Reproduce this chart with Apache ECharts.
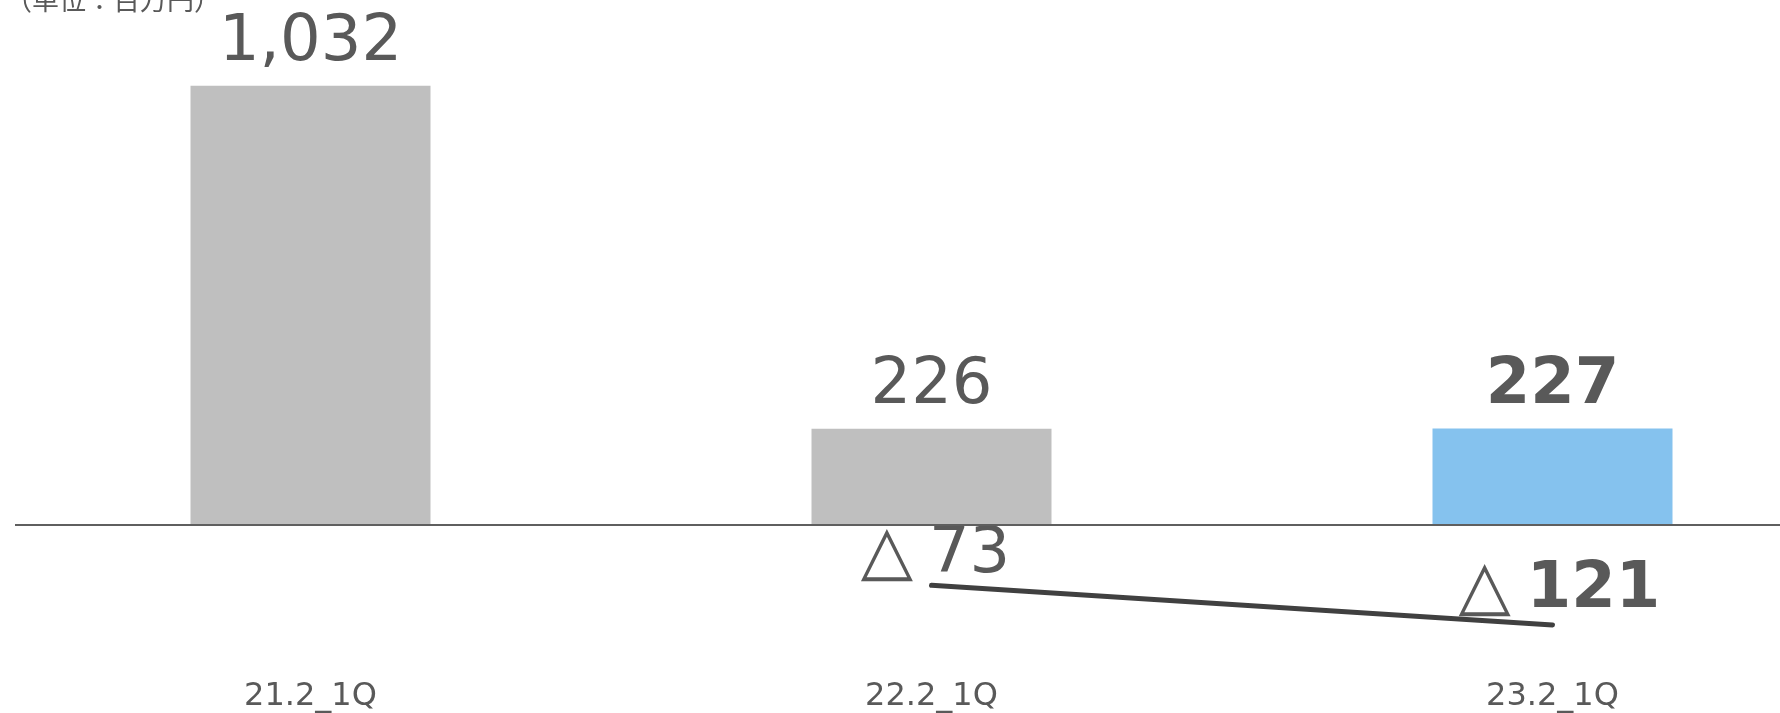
<!DOCTYPE html>
<html>
<head>
<meta charset="utf-8">
<script src="https://cdn.jsdelivr.net/npm/echarts@6/dist/echarts.min.js"></script>
<style>
  html, body { margin: 0; padding: 0; background: #fff; }
  #chart { width: 1780px; height: 713px; }
</style>
</head>
<body>
<div id="chart"></div>
<script>
// Quarterly figures (unit: million yen)
const categories = ['21.2_1Q', '22.2_1Q', '23.2_1Q'];
const barValues = [1032, 226, 227];
const lineValues = [null, -73, -121];
const highlightIndex = 2;

const TEXT = '#595959';
const FONT = 'DejaVu Sans';

function fmt(v) {
  const s = Math.abs(v).toLocaleString('en-US');
  return v < 0 ? '△ ' + s : s;
}

const barData = barValues.map((v, i) => ({
  value: v,
  itemStyle: { color: i === highlightIndex ? '#85C2EE' : '#BFBFBF' },
  label: { fontWeight: i === highlightIndex ? 'bold' : 'normal' }
}));

// per-point nudges for the change labels
const lineLabelOffsets = [null, [4, 9], [7, 4]];

const lineData = lineValues.map((v, i) => {
  if (v == null) return null;
  const bold = i === highlightIndex;
  return {
    value: v,
    label: {
      offset: lineLabelOffsets[i],
      formatter: (p) => '{t|△}{s| }{' + (bold ? 'b' : 'n') + '|' + Math.abs(p.value).toLocaleString('en-US') + '}'
    }
  };
});

const chart = echarts.init(document.getElementById('chart'), null, { renderer: 'canvas' });
chart.setOption({
  animation: false,
  backgroundColor: '#fff',
  title: {
    text: '（単位：百万円）',
    left: 0,
    top: -19,
    textStyle: { fontFamily: 'Noto Sans CJK JP', fontSize: 27, fontWeight: 'normal', color: TEXT }
  },
  grid: { left: 0, top: 25, width: 1863, height: 640, containLabel: false, outerBoundsMode: 'none' },
  xAxis: {
    type: 'category',
    data: categories,
    axisLine: { show: false, onZero: false },
    axisTick: { show: false },
    axisLabel: { color: TEXT, fontFamily: FONT, fontSize: 32, margin: 16 },
    splitLine: { show: false }
  },
  yAxis: [
    { type: 'value', min: -329, max: 1175, show: false, splitLine: { show: false } },
    { type: 'value', min: -169.5, max: 605.3, show: false, splitLine: { show: false } }
  ],
  series: [
    {
      type: 'bar',
      data: barData,
      barWidth: 240,
      yAxisIndex: 0,
      label: {
        show: true,
        position: 'top',
        distance: 10,
        color: TEXT,
        fontFamily: FONT,
        fontSize: 64,
        formatter: (p) => fmt(p.value)
      },
      markLine: {
        silent: true,
        symbol: ['none', 'none'],
        label: { show: false },
        lineStyle: { color: '#5f5f5f', width: 2, type: 'solid' },
        emphasis: { disabled: true },
        data: [[{ x: 15, yAxis: 0 }, { x: 1780, yAxis: 0 }]]
      }
    },
    {
      type: 'line',
      data: lineData,
      yAxisIndex: 1,
      connectNulls: false,
      symbol: 'circle',
      symbolSize: 1,
      itemStyle: { color: '#404040' },
      lineStyle: { color: '#404040', width: 5, cap: 'round' },
      label: {
        show: true,
        position: 'top',
        distance: 4,
        rich: {
          t: { fontFamily: FONT, fontSize: 68, color: TEXT, fontWeight: 'normal' },
          s: { fontFamily: FONT, fontSize: 50, color: TEXT },
          n: { fontFamily: FONT, fontSize: 64, color: TEXT, fontWeight: 'normal' },
          b: { fontFamily: FONT, fontSize: 64, color: TEXT, fontWeight: 'bold' }
        }
      },
      z: 3
    }
  ]
});
</script>
</body>
</html>
